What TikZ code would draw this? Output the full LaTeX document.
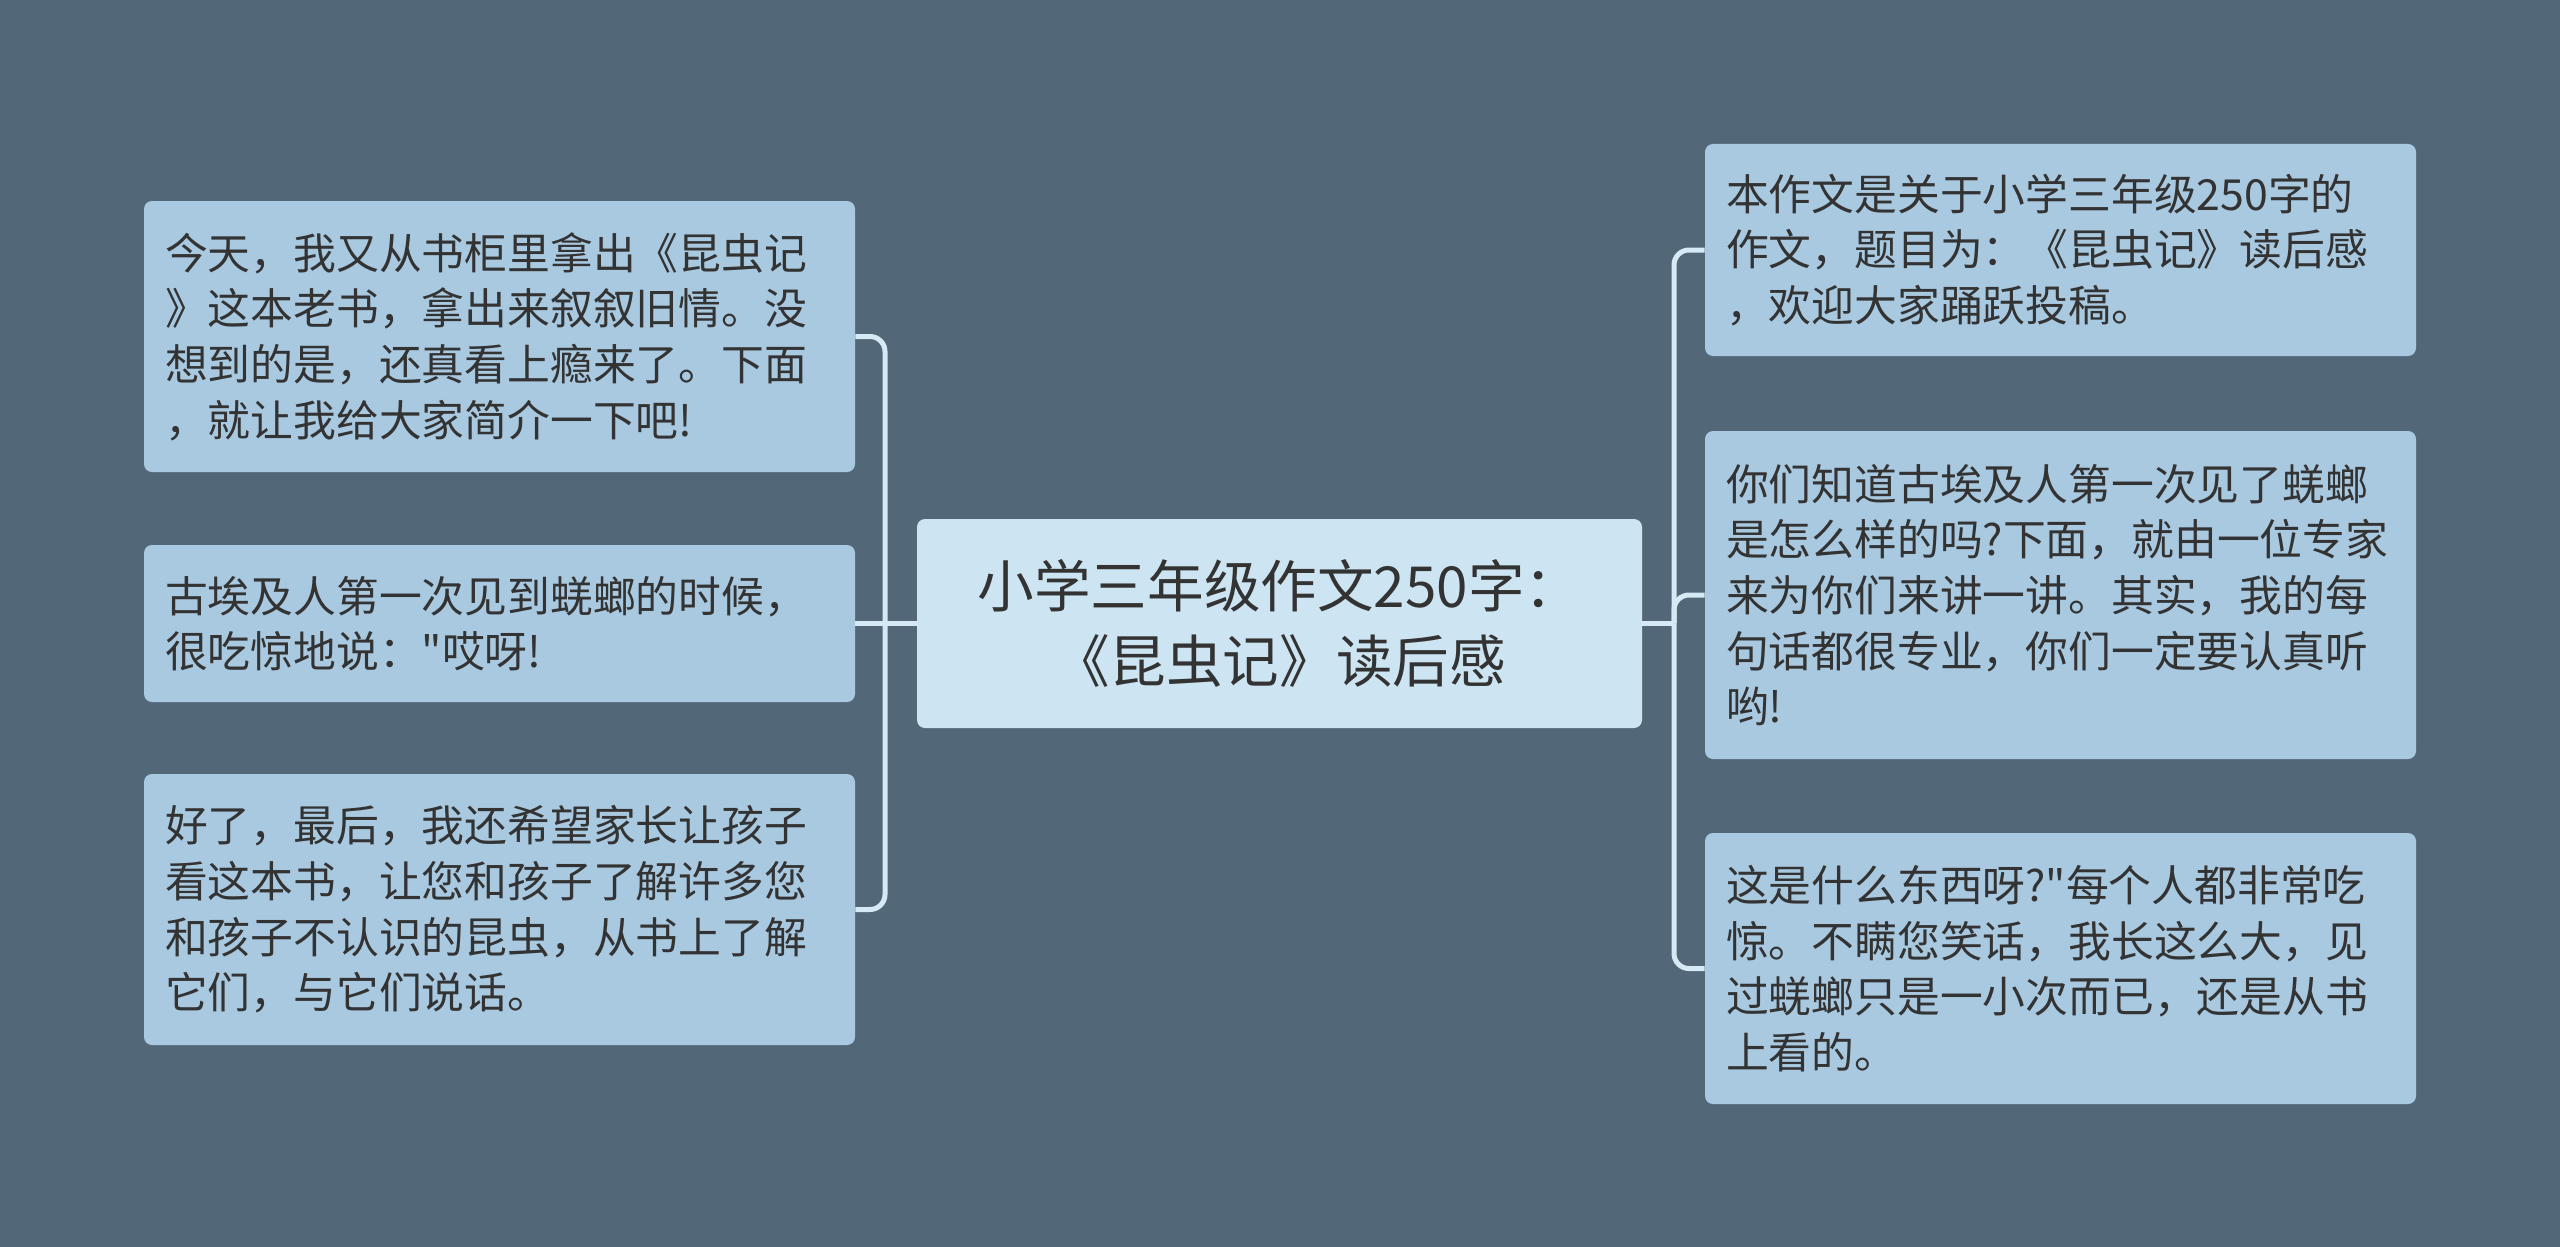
\documentclass[tikz,border=0pt]{standalone}
\usepackage{fontspec}
\newfontfamily\cjk{Noto Sans CJK SC}
\usepackage{tikz}
\usetikzlibrary{calc, positioning}

\definecolor{bgc}{HTML}{526878}
\definecolor{leafc}{HTML}{A9C9E1}
\definecolor{topc}{HTML}{CDE5F2}
\definecolor{linkc}{HTML}{D6EAF6}
\definecolor{txtc}{HTML}{333333}

\tikzset{
  leaf/.style={fill=leafc, rounded corners=4pt, text=txtc, align=left,
    font=\cjk\fontsize{21.4}{27.8}\selectfont, text width=334.5pt,
    inner xsep=10.5pt, inner ysep=0pt},
  topic/.style={fill=topc, rounded corners=4pt, text=txtc, align=center,
    font=\cjk\fontsize{28.3}{37.5}\selectfont, minimum width=362.5pt,
    minimum height=104.5pt, inner sep=0pt},
  link/.style={draw=linkc, line width=2.5pt, rounded corners=7.5pt}
}

\begin{document}
\begin{tikzpicture}[x=0.5pt, y=-0.5pt]
    \fill[bgc] (0,0) rectangle (2560,1247);
    \useasboundingbox (0,0) rectangle (2560,1247);

    \node[topic] (zhuti) at (1279.5,623.5) {小学三年级作文250字：\\《昆虫记》读后感};

    \node[leaf, minimum height=135.5pt] (jiutian) at (499.5,336.5)
        {今天，我又从书柜里拿出《昆虫记\\》这本老书，拿出来叙叙旧情。没\\想到的是，还真看上瘾来了。下面\\，就让我给大家简介一下吧!};
    \node[leaf, minimum height=78.5pt] (aiji) at (499.5,623.5)
        {古埃及人第一次见到蜣螂的时候，\\很吃惊地说："哎呀!};
    \node[leaf, minimum height=135.5pt] (zuihou) at (499.5,909.5)
        {好了，最后，我还希望家长让孩子\\看这本书，让您和孩子了解许多您\\和孩子不认识的昆虫，从书上了解\\它们，与它们说话。};

    \node[leaf, minimum height=106pt] (guanyu) at (2060.5,250)
        {本作文是关于小学三年级250字的\\作文，题目为：《昆虫记》读后感\\，欢迎大家踊跃投稿。};
    \node[leaf, minimum height=164pt] (zhuanjia) at (2060.5,595)
        {你们知道古埃及人第一次见了蜣螂\\是怎么样的吗?下面，就由一位专家\\来为你们来讲一讲。其实，我的每\\句话都很专业，你们一定要认真听\\哟!};
    \node[leaf, minimum height=135.5pt] (chijing) at (2060.5,968.5)
        {这是什么东西呀?"每个人都非常吃\\惊。不瞒您笑话，我长这么大，见\\过蜣螂只是一小次而已，还是从书\\上看的。};

    \coordinate (lj) at (885,623.5);
    \coordinate (rj) at (1674,623.5);

    \draw[link] (zhuti.west) -- (lj);
    \draw[link] (lj) |- (jiutian.east);
    \draw[link] (lj) -- (aiji.east);
    \draw[link] (lj) |- (zuihou.east);

    \draw[link] (zhuti.east) -- (rj);
    \draw[link] (rj) |- (guanyu.west);
    \draw[link] (rj) |- (zhuanjia.west);
    \draw[link] (rj) |- (chijing.west);
\end{tikzpicture}
\end{document}
